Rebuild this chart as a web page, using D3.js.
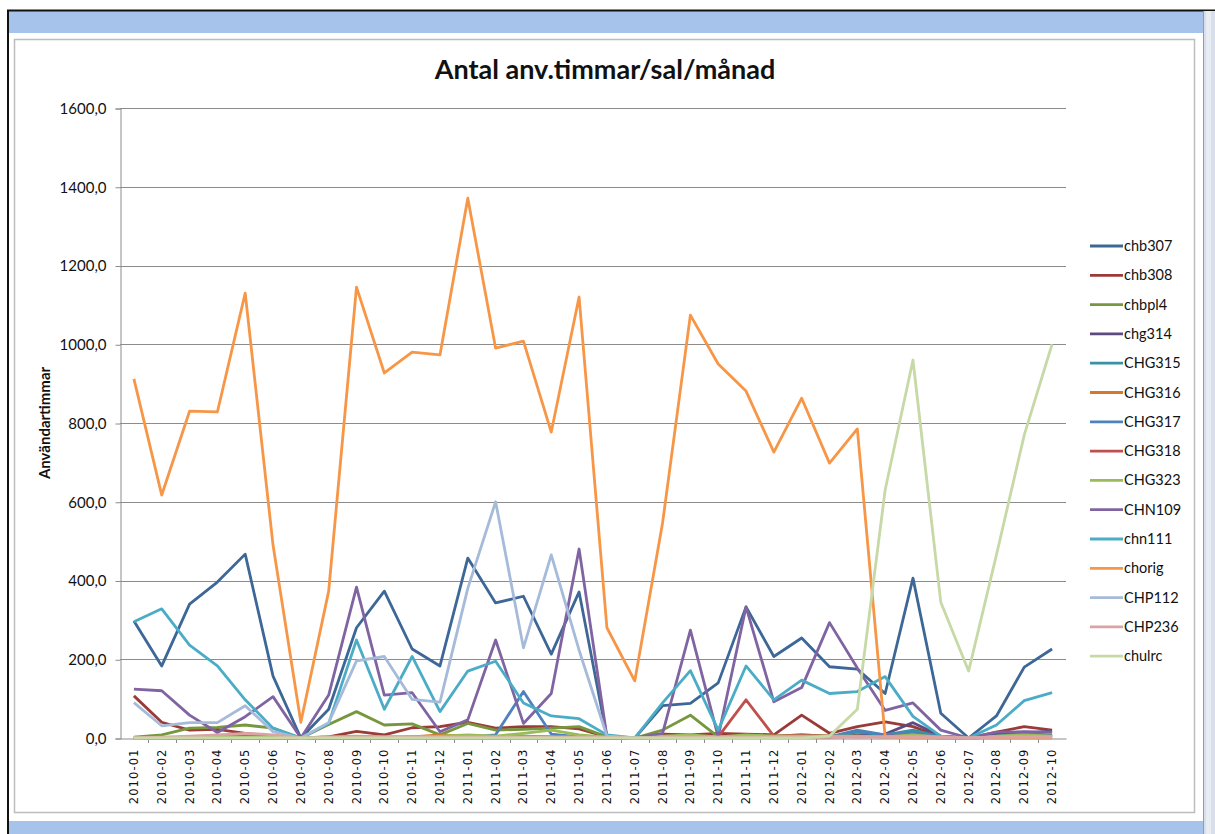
<!DOCTYPE html>
<html>
<head>
<meta charset="utf-8">
<script src="https://cdn.jsdelivr.net/npm/d3@7"></script>
<style>
  body { margin: 0; background: #fff; }
</style>
</head>
<body>
<div id="chart"></div>
<script>
var months = ["2010-01","2010-02","2010-03","2010-04","2010-05","2010-06","2010-07","2010-08","2010-09","2010-10","2010-11","2010-12",
  "2011-01","2011-02","2011-03","2011-04","2011-05","2011-06","2011-07","2011-08","2011-09","2011-10","2011-11","2011-12",
  "2012-01","2012-02","2012-03","2012-04","2012-05","2012-06","2012-07","2012-08","2012-09","2012-10"];

var chb307 = [297,183,340,396,467,157,0,73,280,373,226,183, 457,343,360,213,371,3,0,82,88,140,333,207, 254,181,175,113,406,63,0,56,180,226];
var chb308 = [107,40,20,22,12,5,0,3,17,8,26,29, 40,25,29,29,23,3,0,10,8,12,10,8, 58,12,29,41,29,3,0,15,29,20];
var chbpl4 = [2,8,25,27,33,25,0,34,67,33,36,8, 37,20,22,25,29,3,0,20,58,3,5,5, 8,5,5,5,15,3,0,8,15,5];
var chg314 = [0,0,2,3,4,2,0,2,3,2,2,2, 3,2,3,2,3,0,0,2,3,1,3,2, 4,3,8,10,39,5,0,10,12,18];
var CHG315 = [0,0,0,0,0,0,0,0,0,0,2,2, 3,3,5,3,2,0,0,2,3,2,3,3, 5,3,15,8,20,3,0,5,10,8];
var CHG316 = [0,0,0,0,0,0,0,0,0,0,3,8, 5,2,3,2,2,0,0,0,2,1,2,2, 2,2,5,2,5,0,0,2,3,2];
var CHG317 = [0,0,0,0,0,0,0,0,0,0,2,0, 2,8,118,10,3,0,0,2,3,2,3,3, 5,3,20,8,15,2,0,3,5,5];
var CHG318 = [0,0,0,0,0,0,0,0,0,0,0,0, 0,0,0,0,0,0,0,3,5,3,97,5, 8,5,3,5,5,2,0,3,5,5];
var CHG323 = [0,0,2,3,3,2,0,3,5,3,3,5, 8,5,12,20,8,2,0,5,8,3,8,5, 5,5,5,3,8,2,0,5,8,5];
var CHN109 = [124,120,58,14,54,105,0,109,383,109,115,16, 46,249,37,113,480,3,0,12,274,3,333,92, 128,293,178,70,89,20,0,15,16,15];
var chn111 = [295,328,236,183,97,25,0,37,249,73,207,67, 170,195,89,56,49,8,0,89,171,20,183,97, 147,113,118,156,55,5,0,33,95,115];
var chorig = [912,617,830,828,1130,490,40,373,1145,927,980,973, 1371,990,1008,777,1120,280,145,546,1074,950,881,726, 863,698,785,3,0,0,0,0,0,0];
var CHP112 = [90,31,39,39,82,16,0,39,196,207,98,91, 380,600,229,465,223,5,0,3,3,2,3,3, 3,3,3,3,3,2,0,3,3,3];
var CHP236 = [0,2,5,8,12,8,0,2,3,3,3,3, 3,3,3,3,3,2,0,2,2,2,2,2, 2,2,2,2,2,2,0,2,2,2];
var chulrc = [0,0,0,0,0,0,0,0,0,0,0,0, 0,0,0,0,0,0,0,0,0,0,0,0, 0,5,73,630,960,345,170,465,770,1000];

var seriesNames = ["chb307","chb308","chbpl4","chg314","CHG315","CHG316","CHG317","CHG318","CHG323","CHN109","chn111","chorig","CHP112","CHP236","chulrc"];
var seriesValues = [chb307, chb308, chbpl4, chg314, CHG315, CHG316, CHG317, CHG318, CHG323, CHN109, chn111, chorig, CHP112, CHP236, chulrc];
var seriesColors = ["#3c6797","#9a3b38","#77973f","#5e4a80","#3792a8","#d5782e","#4f81bd","#c0504d","#9bbb59","#8064a2","#4bacc6","#f79646","#a6bad9","#dca3a2","#c6d9a6"];

var yTicks = [0, 200, 400, 600, 800, 1000, 1200, 1400, 1600];

var width = 1215, height = 834;
var svg = d3.select("#chart").append("svg")
  .attr("width", width)
  .attr("height", height);

// window frame
svg.append("rect").attr("x", 8).attr("y", 10).attr("width", 1207).attr("height", 824).attr("fill", "#fff");
svg.append("rect").attr("x", 8).attr("y", 11).attr("width", 1195).attr("height", 22).attr("fill", "#a6c4eb");
svg.append("rect").attr("x", 8).attr("y", 821).attr("width", 1195).attr("height", 13).attr("fill", "#a6c4eb");
svg.append("line").attr("x1", 7).attr("x2", 1215).attr("y1", 10.5).attr("y2", 10.5).attr("stroke", "#111").attr("stroke-width", 2);
svg.append("line").attr("x1", 8).attr("x2", 8).attr("y1", 10).attr("y2", 834).attr("stroke", "#111").attr("stroke-width", 2);
svg.append("rect").attr("x", 1203).attr("y", 11).attr("width", 12).attr("height", 823).attr("fill", "#d9dfea");
svg.append("rect").attr("x", 1206).attr("y", 11).attr("width", 5).attr("height", 823).attr("fill", "#e8ecf3");
svg.append("line").attr("x1", 1203.5).attr("x2", 1203.5).attr("y1", 11).attr("y2", 834).attr("stroke", "#7f9dcf").attr("stroke-width", 1);

// chart area border
svg.append("rect").attr("x", 14.5).attr("y", 39.5).attr("width", 1180).attr("height", 773)
  .attr("fill", "#fff").attr("stroke", "#bdbdbd").attr("stroke-width", 1.5);

var margin = { left: 120, top: 108, right: 1066, bottom: 738 };

var x = d3.scaleBand().domain(months).range([margin.left, margin.right]);
var y = d3.scaleLinear().domain([0, 1600]).range([margin.bottom, margin.top]);

// gridlines
svg.append("g").selectAll("line").data(yTicks.slice(1)).join("line")
  .attr("x1", margin.left).attr("x2", margin.right)
  .attr("y1", d => Math.round(y(d)) + 0.5).attr("y2", d => Math.round(y(d)) + 0.5)
  .attr("stroke", "#8c8c8c").attr("stroke-width", 1);

// y axis
var yAxis = svg.append("g")
  .attr("transform", "translate(" + (margin.left + 0.5) + ",0.5)")
  .call(d3.axisLeft(y).tickValues(yTicks).tickSize(5).tickPadding(9)
    .tickFormat(d => d3.format(".1f")(d).replace(".", ",")));
yAxis.select(".domain").attr("stroke", "#8c8c8c");
yAxis.selectAll(".tick line").attr("stroke", "#8c8c8c");
yAxis.selectAll("text").attr("font-family", "Lato, sans-serif").attr("font-size", 15).attr("fill", "#111");

// x axis
var xAxis = svg.append("g")
  .attr("transform", "translate(0," + (margin.bottom + 0.5) + ")")
  .call(d3.axisBottom(x).tickSize(0).tickPadding(0));
xAxis.select(".domain").attr("stroke", "#8c8c8c");
xAxis.selectAll(".tick text")
  .attr("font-family", "DejaVu Sans, sans-serif").attr("font-size", 11.5)
  .attr("letter-spacing", 1.1)
  .attr("fill", "#111")
  .attr("text-anchor", "end")
  .attr("dy", "0.35em")
  .attr("transform", "translate(0,10) rotate(-90)")
  .attr("x", 0).attr("y", 0);
svg.append("g").selectAll("line").data(months.slice(1)).join("line")
  .attr("x1", d => Math.round(x(d)) + 0.5).attr("x2", d => Math.round(x(d)) + 0.5)
  .attr("y1", margin.bottom).attr("y2", margin.bottom + 5)
  .attr("stroke", "#8c8c8c");

// lines
var line = d3.line()
  .x((d, i) => x(months[i]) + x.bandwidth() / 2)
  .y(d => y(d));

svg.append("g").selectAll("path").data(seriesValues).join("path")
  .attr("d", d => line(d))
  .attr("fill", "none")
  .attr("stroke", (d, i) => seriesColors[i])
  .attr("stroke-width", 2.8)
  .attr("stroke-linejoin", "round");

// title
svg.append("text")
  .attr("x", 605).attr("y", 79)
  .attr("text-anchor", "middle")
  .attr("font-family", "Lato, sans-serif").attr("font-weight", "bold").attr("font-size", 27)
  .attr("fill", "#111")
  .text("Antal anv.timmar/sal/månad");

// y title
svg.append("text")
  .attr("transform", "translate(50,423) rotate(-90)")
  .attr("text-anchor", "middle")
  .attr("font-family", "Lato, sans-serif").attr("font-weight", "bold").attr("font-size", 15)
  .attr("fill", "#111")
  .text("Användartimmar");

// legend
var legend = svg.append("g").selectAll("g").data(seriesNames).join("g")
  .attr("transform", (d, i) => "translate(1090," + (246 + i * 29.3) + ")");
legend.append("line")
  .attr("x1", 0).attr("x2", 33).attr("y1", 0).attr("y2", 0)
  .attr("stroke", (d, i) => seriesColors[i]).attr("stroke-width", 2.8);
legend.append("text")
  .attr("x", 34).attr("y", 0).attr("dy", "0.35em")
  .attr("font-family", "Lato, sans-serif").attr("font-size", 14.5)
  .attr("fill", "#111")
  .text(d => d);
</script>
</body>
</html>
